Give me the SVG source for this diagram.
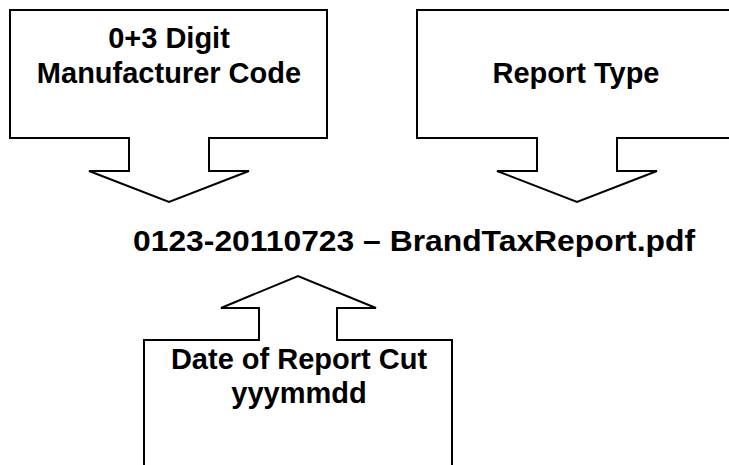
<svg xmlns="http://www.w3.org/2000/svg" width="729" height="465" viewBox="0 0 729 465">
<style>
.shape{fill:#fff;stroke:#000;stroke-width:2;stroke-linejoin:miter}
.lbl{font-family:"Liberation Sans",Arial,sans-serif;font-weight:bold;font-size:29px;fill:#000;text-anchor:middle}
</style>
<rect width="729" height="465" fill="#fff"/>
<g id="connectors"></g>
<g id="node-manufacturer">
<path class="shape" d="M10,10 H327 V138 H209 V171 H249 L169,202 L89,171 H129 V138 H10 Z"/>
<text class="lbl" x="169" y="48">0+3 Digit</text>
<text class="lbl" x="169" y="83">Manufacturer Code</text>
</g>
<g id="node-reporttype">
<path class="shape" d="M417,10 H740 V138 H617 V171 H657 L577,202 L497,171 H537 V138 H417 Z"/>
<text class="lbl" x="576" y="83">Report Type</text>
</g>
<g id="node-filename">
<text class="lbl" x="414" y="251" font-size="31.5" textLength="562" lengthAdjust="spacingAndGlyphs">0123-20110723 – BrandTaxReport.pdf</text>
</g>
<g id="node-date">
<path class="shape" d="M144,475 V340 H259 V308 H221 L298,276 L376,308 H337 V340 H452 V475 Z"/>
<text class="lbl" x="299" y="369">Date of Report Cut</text>
<text class="lbl" x="299" y="403">yyymmdd</text>
</g>
</svg>
